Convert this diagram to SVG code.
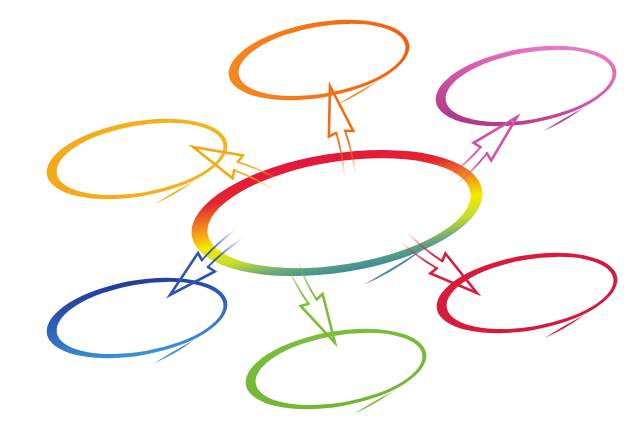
<svg xmlns="http://www.w3.org/2000/svg" xmlns:xlink="http://www.w3.org/1999/xlink" width="640" height="426" viewBox="0 0 640 426">
<style>
.head{fill:none;stroke-width:2.6;stroke-linejoin:miter;stroke-miterlimit:10;stroke-linecap:round}
.shaft{fill:none;stroke-width:1.8;stroke-linecap:round}
</style>
<defs>
<path id="ring" fill-rule="evenodd" d="M-91.5,0 A91.5,37.5 0 1,0 91.5,0 A91.5,37.5 0 1,0 -91.5,0 Z M-81.5,0.5 A84.5,33.5 0 1,0 87.5,0.5 A84.5,33.5 0 1,0 -81.5,0.5 Z"/>
<path id="tail" d="M9,47.5 Q31,42.5 53,31.5 Q31,38.5 9,47.5 Z"/>
<path id="bigring" fill-rule="evenodd" d="M-147,0 A147,59.5 0 1,0 147,0 A147,59.5 0 1,0 -147,0 Z M-131,0.5 A133,51.5 0 1,0 135,0.5 A133,51.5 0 1,0 -131,0.5 Z"/>
<linearGradient id="fadeG" gradientUnits="userSpaceOnUse" x1="0" y1="58" x2="0" y2="92">
<stop offset="0" stop-color="#fff"/><stop offset="1" stop-color="#000"/>
</linearGradient>
<mask id="fade" maskUnits="userSpaceOnUse" x="-40" y="-10" width="80" height="120">
<rect x="-40" y="-10" width="80" height="120" fill="url(#fadeG)"/>
</mask>
<g id="arrow">
<path class="head" d="M-4.5,47 L-12.5,49 L0,0 L12.5,49 L4.5,47"/>
<path class="shaft" mask="url(#fade)" d="M-4.5,47 Q-3,66 -6,90 M4.5,47 Q7,68 5,92"/>
</g>
<linearGradient id="gCenter" x1="0.45" y1="0" x2="0.55" y2="1">
<stop offset="0" stop-color="#e2173c"/>
<stop offset="0.22" stop-color="#e4262f"/>
<stop offset="0.42" stop-color="#f2921c"/>
<stop offset="0.58" stop-color="#f6ea00"/>
<stop offset="0.74" stop-color="#c4dd2e"/>
<stop offset="0.88" stop-color="#6aa87a"/>
<stop offset="1" stop-color="#3a8a9c"/>
</linearGradient>
<linearGradient id="gOrange" x1="0" y1="0.5" x2="1" y2="0.5">
<stop offset="0" stop-color="#f6881f"/><stop offset="1" stop-color="#f2600c"/>
</linearGradient>
<linearGradient id="gPink" x1="0" y1="1" x2="1" y2="0">
<stop offset="0" stop-color="#9e2c7c"/><stop offset="0.5" stop-color="#d458aa"/><stop offset="1" stop-color="#f08ad0"/>
</linearGradient>
<linearGradient id="gYellow" x1="0" y1="0.5" x2="1" y2="0.5">
<stop offset="0" stop-color="#f2aa1a"/><stop offset="1" stop-color="#f4b51e"/>
</linearGradient>
<linearGradient id="gBlue" x1="0" y1="0" x2="0" y2="1">
<stop offset="0" stop-color="#233c9c"/><stop offset="1" stop-color="#3a92da"/>
</linearGradient>
<linearGradient id="gGreen" x1="0" y1="0" x2="0" y2="1">
<stop offset="0" stop-color="#7cbd3c"/><stop offset="1" stop-color="#72b634"/>
</linearGradient>
<linearGradient id="gRed" x1="0" y1="0" x2="1" y2="1">
<stop offset="0" stop-color="#d81c3c"/><stop offset="1" stop-color="#d41a3a"/>
</linearGradient>
</defs>

<g id="node-center" transform="translate(337,213) rotate(-9)">
<use href="#bigring" fill="url(#gCenter)"/>
</g>
<path id="center-tail" d="M363,285 Q395,272 426,247 Q393,268 363,285 Z" fill="#4a8ea6"/>

<g id="node-orange" transform="translate(319,60) rotate(-10)">
<use href="#ring" fill="url(#gOrange)"/><use href="#tail" fill="#f5892a"/>
</g>
<g id="node-pink" transform="translate(526,86) rotate(-10)">
<use href="#ring" fill="url(#gPink)"/><use href="#tail" fill="#b8408e"/>
</g>
<g id="node-yellow" transform="translate(137,159) rotate(-10)">
<use href="#ring" fill="url(#gYellow)"/><use href="#tail" fill="#f3b020"/>
</g>
<g id="node-blue" transform="translate(137,318) rotate(-10)">
<use href="#ring" fill="url(#gBlue)"/><use href="#tail" fill="#3a8ad6"/>
</g>
<g id="node-green" transform="translate(336,369) rotate(-10)">
<use href="#ring" fill="url(#gGreen)"/><use href="#tail" fill="#7cbd3c"/>
</g>
<g id="node-red" transform="translate(527,293) rotate(-10)">
<use href="#ring" fill="url(#gRed)"/><use href="#tail" fill="#d81c3c"/>
</g>

<g id="connectors">
<use href="#arrow" stroke="#f26c12" transform="translate(330,86) rotate(-13)"/>
<use href="#arrow" stroke="#d052a8" transform="translate(517,117) rotate(45)"/>
<use href="#arrow" stroke="#f2aa14" transform="translate(193,147) rotate(-66)"/>
<use href="#arrow" stroke="#2c56b5" transform="translate(170,295) rotate(-132)"/>
<use href="#arrow" stroke="#7bbd3a" transform="translate(335,343) rotate(151.5)"/>
<use href="#arrow" stroke="#d81e3c" transform="translate(477,293) rotate(127)"/>
</g>
</svg>
